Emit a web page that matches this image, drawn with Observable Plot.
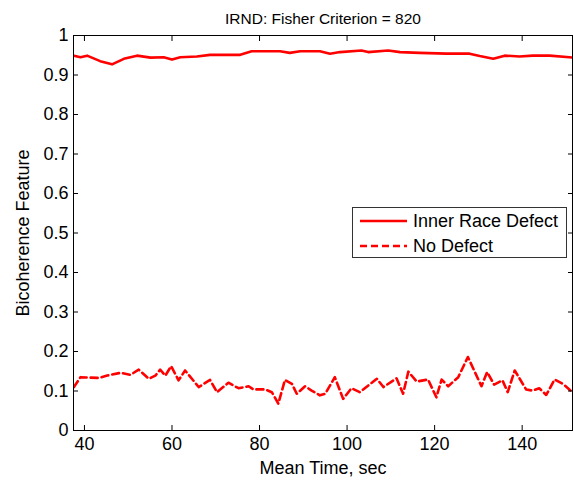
<!DOCTYPE html>
<html>
<head>
<meta charset="utf-8">
<script src="https://cdn.jsdelivr.net/npm/d3@7"></script>
<script src="https://cdn.jsdelivr.net/npm/@observablehq/plot@0.6"></script>
<style>
  html, body { margin: 0; padding: 0; background: #fff; }
  #wrap { position: relative; width: 574px; height: 481px; font-family: "Liberation Sans", Arial, sans-serif; }
  #legend { position: absolute; left: 352px; top: 207px; width: 215px; height: 51px; border: 1px solid #333; background: #fff; box-sizing: border-box; }
  .item { position: absolute; left: 0; height: 24px; display: flex; align-items: center; font-size: 18px; color: #000; white-space: nowrap; }
  .item svg { margin-left: 7px; margin-right: 6px; }
</style>
</head>
<body>
<div id="wrap"></div>
<script>
const chartTitle = "IRND: Fisher Criterion = 820";
const xLabel = "Mean Time, sec";
const yLabel = "Bicoherence Feature";
const seriesNames = ["Inner Race Defect", "No Defect"];
const xTicks = [40, 60, 80, 100, 120, 140];
const yTicks = [0, 0.1, 0.2, 0.3, 0.4, 0.5, 0.6, 0.7, 0.8, 0.9, 1];

const timeIRD = [37.6, 39.1, 40.6, 43.6, 46.3, 49.0, 52.0, 55.1, 58.1, 60.0, 61.9, 65.7, 68.7, 71.8, 75.6, 78.2, 84.7, 86.9, 89.3, 93.8, 96.1, 98.4, 103.3, 104.8, 109.4, 112.1, 116.6, 122.7, 128.0, 130.3, 133.4, 136.0, 139.4, 142.4, 146.3, 150.8, 151.5];
const valIRD = [0.949, 0.945, 0.949, 0.935, 0.927, 0.941, 0.949, 0.944, 0.945, 0.939, 0.945, 0.947, 0.951, 0.951, 0.951, 0.960, 0.960, 0.956, 0.960, 0.960, 0.954, 0.958, 0.962, 0.958, 0.962, 0.958, 0.956, 0.954, 0.954, 0.948, 0.941, 0.949, 0.947, 0.949, 0.949, 0.945, 0.944];

const timeND = [37.6, 39.1, 43.3, 45.2, 48.2, 50.5, 52.4, 54.7, 56.2, 57.3, 58.5, 59.8, 61.5, 63.0, 66.1, 68.7, 70.3, 72.9, 75.2, 77.5, 78.6, 81.3, 82.8, 84.3, 85.8, 87.4, 88.5, 90.4, 91.9, 93.8, 95.0, 97.2, 99.1, 101.0, 102.9, 106.8, 108.3, 111.3, 112.8, 114.0, 115.9, 118.5, 120.4, 121.6, 123.1, 125.4, 127.6, 130.7, 132.0, 133.6, 135.5, 136.7, 138.3, 140.9, 142.4, 143.9, 145.5, 147.4, 149.3, 151.5];
const valND = [0.110, 0.135, 0.133, 0.139, 0.146, 0.141, 0.154, 0.131, 0.139, 0.154, 0.139, 0.163, 0.127, 0.152, 0.110, 0.128, 0.097, 0.121, 0.107, 0.112, 0.104, 0.104, 0.097, 0.068, 0.128, 0.118, 0.093, 0.112, 0.101, 0.089, 0.093, 0.135, 0.080, 0.107, 0.097, 0.131, 0.110, 0.132, 0.093, 0.149, 0.124, 0.129, 0.084, 0.129, 0.112, 0.135, 0.186, 0.112, 0.148, 0.116, 0.127, 0.097, 0.152, 0.104, 0.101, 0.107, 0.090, 0.129, 0.118, 0.097];

const ird = timeIRD.map((t, i) => ({t, v: valIRD[i]}));
const nd = timeND.map((t, i) => ({t, v: valND[i]}));
const fmt = d => String(+d.toFixed(1));
const FS = 18;

const chart = Plot.plot({
  width: 574,
  height: 481,
  marginLeft: 73,
  marginRight: 2,
  marginTop: 35,
  marginBottom: 51,
  style: {fontFamily: '"Liberation Sans", Arial, sans-serif', fontSize: FS + "px", color: "#000", background: "#fff", overflow: "visible"},
  x: {domain: [37.5, 151.5]},
  y: {domain: [0, 1]},
  marks: [
    Plot.line(ird, {x: "t", y: "v", stroke: "#ff0000", strokeWidth: 2.6, clip: true}),
    Plot.line(nd, {x: "t", y: "v", stroke: "#ff0000", strokeWidth: 2.6, strokeDasharray: "7,4", clip: true}),
    Plot.frame({stroke: "#000", strokeWidth: 1}),
    Plot.axisX({ticks: xTicks, anchor: "bottom", tickSize: -5, tickPadding: 12, tickFormat: fmt, label: xLabel, labelAnchor: "center", labelArrow: "none", labelOffset: 43, fontSize: FS}),
    Plot.axisX({ticks: xTicks, anchor: "top", tickSize: -5, tickFormat: () => "", label: null}),
    Plot.axisY({ticks: yTicks, anchor: "left", tickSize: -5, tickPadding: 10, tickFormat: fmt, label: yLabel, labelAnchor: "center", labelArrow: "none", labelOffset: 57, fontSize: FS}),
    Plot.axisY({ticks: yTicks, anchor: "right", tickSize: -5, tickFormat: () => "", label: null}),
    Plot.text([chartTitle], {text: d => d, frameAnchor: "top", dy: -23, fontSize: 15.5})
  ]
});
const wrap = document.getElementById("wrap");
wrap.appendChild(chart);

const legend = document.createElement("div");
legend.id = "legend";
seriesNames.forEach((name, i) => {
  const item = document.createElement("div");
  item.className = "item";
  item.style.top = (i === 0 ? 1 : 26) + "px";
  const dash = i === 0 ? "" : 'stroke-dasharray="7,4"';
  item.innerHTML = `<svg width="47" height="6"><line x1="0" y1="3" x2="47" y2="3" stroke="#ff0000" stroke-width="2.6" ${dash}/></svg><span>${name}</span>`;
  legend.appendChild(item);
});
wrap.appendChild(legend);
</script>
</body>
</html>
